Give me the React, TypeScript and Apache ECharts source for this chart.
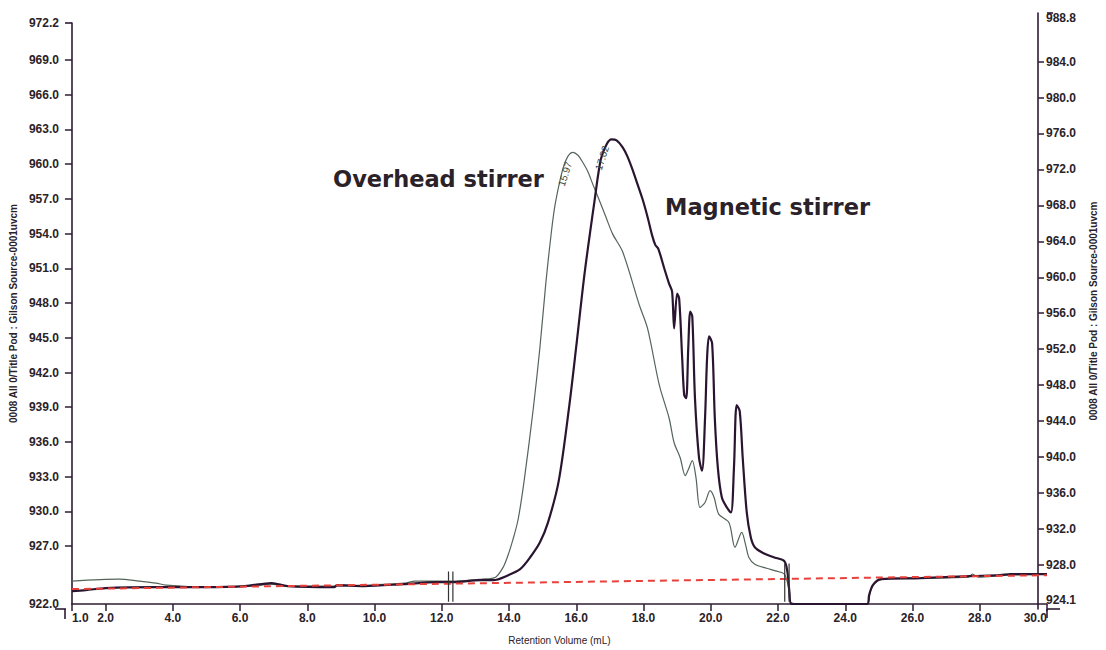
import React, { useEffect, useRef } from "react";
import * as echarts from "echarts";

// ---- axis ticks / labels ----
const volumeTicks = [1, 2, 4, 6, 8, 10, 12, 14, 16, 18, 20, 22, 24, 26, 28, 30];
const leftTicks = [927, 930, 933, 936, 939, 942, 945, 948, 951, 954, 957, 960, 963, 966, 969];
const leftLabels = [922.0, ...leftTicks, 972.2];
const rightTicks = [928, 932, 936, 940, 944, 948, 952, 956, 960, 964, 968, 972, 976, 980, 984];
const rightLabels = [924.1, ...rightTicks, 988.8];

// ---- series (retention volume mL, detector signal) ----
const overheadStirrer: [number, number][] = [
  [1.0, 923.98], [2.4, 924.15], [3.0, 923.98], [3.5, 923.81], [3.8, 923.63], [5.0, 923.46],
  [6.4, 923.55], [6.9, 923.72], [7.4, 923.55], [8.9, 923.55], [10.9, 923.81], [11.2, 923.98],
  [12.4, 923.98], [13.2, 924.15], [13.6, 924.32], [13.83, 925.2], [13.98, 926.3], [14.12, 927.6],
  [14.27, 929.3], [14.45, 932.66], [14.72, 938.85], [14.92, 944.2], [15.1, 949.9], [15.25, 953.9],
  [15.37, 956.5], [15.6, 959.6], [15.75, 960.68], [15.9, 961.03], [16.05, 960.77], [16.19, 960.17],
  [16.34, 959.39], [16.49, 958.28], [16.67, 956.99], [16.87, 955.52], [17.08, 953.98], [17.38, 952.43],
  [17.88, 947.79], [18.12, 945.81], [18.47, 940.91], [18.76, 938.07], [18.91, 935.93], [19.09, 934.64],
  [19.24, 933.09], [19.33, 933.6], [19.45, 934.38], [19.56, 932.92], [19.68, 930.34], [19.83, 930.77],
  [19.98, 931.8], [20.1, 931.2], [20.24, 929.74], [20.54, 929.05], [20.72, 926.9], [20.92, 928.19],
  [21.04, 927.07], [21.13, 926.04], [21.31, 925.44], [21.66, 925.09], [21.96, 924.84], [22.19, 924.58],
  [22.31, 923.46], [22.37, 922.17], [22.7, 922.0], [24.65, 922.0], [24.74, 923.03], [24.88, 923.81],
  [25.12, 924.15], [26.24, 924.24], [27.66, 924.32], [27.78, 924.58], [27.96, 924.32], [28.76, 924.49],
  [30.0, 924.58],
];

const magneticStirrer: [number, number][] = [
  [1.0, 923.12], [1.41, 923.2], [2.0, 923.38], [3.48, 923.46], [4.96, 923.46], [6.14, 923.55],
  [6.94, 923.81], [7.41, 923.55], [8.8, 923.46], [8.89, 923.63], [9.69, 923.55], [10.87, 923.72],
  [11.85, 923.89], [12.35, 923.89], [13.15, 924.06], [13.53, 924.06], [13.98, 924.49], [14.33, 925.01],
  [14.63, 926.04], [14.92, 927.33], [15.16, 929.05], [15.48, 932.66], [15.78, 938.85], [16.02, 944.78],
  [16.25, 950.63], [16.55, 956.99], [16.73, 960.42], [16.9, 961.71], [17.05, 962.14], [17.2, 962.06],
  [17.38, 961.46], [17.52, 960.68], [17.67, 959.56], [17.82, 958.28], [17.97, 956.99], [18.12, 955.44],
  [18.26, 953.81], [18.35, 953.03], [18.44, 952.69], [18.62, 950.97], [18.76, 949.68], [18.85, 948.99],
  [18.91, 945.81], [19.0, 948.82], [19.06, 948.39], [19.15, 943.23], [19.21, 940.05], [19.27, 939.79],
  [19.33, 944.09], [19.39, 947.27], [19.45, 946.84], [19.53, 939.79], [19.65, 934.64], [19.74, 933.52],
  [19.83, 938.07], [19.89, 943.23], [19.95, 945.12], [20.04, 944.52], [20.12, 938.07], [20.21, 933.78],
  [20.33, 931.2], [20.48, 930.34], [20.6, 929.91], [20.69, 933.78], [20.77, 939.19], [20.86, 938.68],
  [20.95, 934.64], [21.07, 929.91], [21.19, 927.76], [21.31, 926.9], [21.57, 926.38], [21.87, 926.04],
  [22.19, 925.7], [22.28, 924.75], [22.34, 923.03], [22.4, 922.0], [24.65, 922.0], [24.71, 922.77],
  [24.82, 923.63], [25.06, 924.15], [26.24, 924.24], [27.72, 924.41], [28.61, 924.49], [28.91, 924.58],
  [30.0, 924.58],
];

const baselineVolume = [1.0, 30.0];
const baselineSignal = [923.29, 924.49];

const markerVolumes = [12.2, 12.33, 22.2, 22.33];
const markerTop = [924.8, 924.8, 925.5, 925.5];
const markerBottom = 922.2;

const peakLabels = ["15.97", "17.02"];

const AXIS = "#2e1c33";
const TXT = "#2a2228";
const FONT = "'Liberation Sans', Arial, sans-serif";

export default function App() {
  const ref = useRef<HTMLDivElement>(null);

  useEffect(() => {
    if (!ref.current) return;
    const chart = echarts.init(ref.current, undefined, { renderer: "svg" });

    const axisLine = { show: true, onZero: false, lineStyle: { color: AXIS, width: 1.6 } };
    const labelStyle = { color: TXT, fontSize: 12, fontFamily: FONT, fontWeight: "bold" as const };

    const markerSeries = markerVolumes.map((v, i) => ({
      type: "line" as const,
      xAxisIndex: 0,
      yAxisIndex: 0,
      data: [[v, markerBottom], [v, markerTop[i]]],
      showSymbol: false,
      silent: true,
      lineStyle: { color: "#333", width: 1.2 },
      z: 6,
    }));

    const line = (x1: number, y1: number, x2: number, y2: number) => ({
      type: "line",
      shape: { x1, y1, x2, y2 },
      style: { stroke: AXIS, lineWidth: 1.6 },
      z: 100,
    });

    chart.setOption({
      animation: false,
      backgroundColor: "#ffffff",
      grid: [
        { left: 66, right: 59, top: 23, bottom: 41 },
        { left: 66, right: 59, top: 13, bottom: 41 },
      ],
      xAxis: [
        {
          gridIndex: 0,
          type: "value",
          min: 1,
          max: 30,
          name: "Retention Volume (mL)",
          nameLocation: "middle",
          nameGap: 31,
          nameTextStyle: { color: TXT, fontSize: 10, fontFamily: FONT },
          axisLine,
          axisTick: { show: true, customValues: volumeTicks, length: 7, lineStyle: { color: AXIS, width: 1.5 } },
          axisLabel: {
            customValues: volumeTicks,
            formatter: (v: number) => v.toFixed(1),
            margin: 8,
            alignMinLabel: "left",
            alignMaxLabel: "right",
            ...labelStyle,
          },
          splitLine: { show: false },
        },
        { gridIndex: 1, type: "value", min: 1, max: 30, show: false },
      ],
      yAxis: [
        {
          gridIndex: 0,
          type: "value",
          position: "left",
          min: 922,
          max: 972.2,
          name: "0008 All 0/Title Pod : Gilson Source-0001uvcm",
          nameLocation: "middle",
          nameRotate: 90,
          nameGap: 52,
          nameTextStyle: { color: TXT, fontSize: 10, fontWeight: "bold", fontFamily: FONT },
          axisLine,
          axisTick: { show: true, customValues: leftTicks, length: 7, lineStyle: { color: AXIS, width: 1.5 } },
          axisLabel: { customValues: leftLabels, formatter: (v: number) => v.toFixed(1), margin: 13, ...labelStyle },
          splitLine: { show: false },
        },
        {
          gridIndex: 1,
          type: "value",
          position: "right",
          min: 923.1,
          max: 989.4,
          name: "0008 All 0/Title Pod : Gilson Source-0001uvcm",
          nameLocation: "middle",
          nameRotate: 90,
          nameGap: 50,
          nameTextStyle: { color: TXT, fontSize: 10, fontWeight: "bold", fontFamily: FONT },
          axisLine,
          axisTick: { show: true, customValues: rightTicks, length: 6, lineStyle: { color: AXIS, width: 1.5 } },
          axisLabel: { customValues: rightLabels, formatter: (v: number) => v.toFixed(1), margin: 8, ...labelStyle },
          splitLine: { show: false },
        },
      ],
      series: [
        {
          name: "Overhead stirrer",
          type: "line",
          xAxisIndex: 0,
          yAxisIndex: 0,
          data: overheadStirrer,
          showSymbol: false,
          smooth: 0.3,
          lineStyle: { color: "#55645a", width: 1.2 },
          z: 3,
        },
        {
          name: "Magnetic stirrer",
          type: "line",
          xAxisIndex: 0,
          yAxisIndex: 0,
          data: magneticStirrer,
          showSymbol: false,
          smooth: 0.3,
          lineStyle: { color: "#2a1530", width: 2.2 },
          z: 4,
        },
        {
          name: "baseline",
          type: "line",
          xAxisIndex: 0,
          yAxisIndex: 0,
          data: baselineVolume.map((v, i) => [v, baselineSignal[i]]),
          showSymbol: false,
          lineStyle: { color: "#e8403a", width: 2, type: [7, 5] },
          z: 5,
        },
        ...markerSeries,
      ],
      graphic: [
        line(55, 609, 66, 609),
        line(1047, 609, 1060, 609),
        line(65, 609, 65, 619),
        line(1047, 609, 1047, 618),
        line(65, 23, 72, 23),
        line(1047, 13, 1053, 13),
        {
          type: "text",
          x: 333,
          y: 179,
          style: { text: "Overhead stirrer", font: "bold 22.5px 'DejaVu Sans', sans-serif", fill: TXT, textAlign: "left", textVerticalAlign: "middle" },
          z: 100,
        },
        {
          type: "text",
          x: 665,
          y: 207,
          style: { text: "Magnetic stirrer", font: "bold 22.5px 'DejaVu Sans', sans-serif", fill: TXT, textAlign: "left", textVerticalAlign: "middle" },
          z: 100,
        },
        {
          type: "text",
          x: 565,
          y: 174,
          rotation: (72 * Math.PI) / 180,
          style: { text: peakLabels[0], font: "10px 'Liberation Sans', sans-serif", fill: "#3c4a40", textAlign: "center", textVerticalAlign: "middle" },
          z: 100,
        },
        {
          type: "text",
          x: 602,
          y: 158,
          rotation: (72 * Math.PI) / 180,
          style: { text: peakLabels[1], font: "10px 'Liberation Sans', sans-serif", fill: "#3c4a40", textAlign: "center", textVerticalAlign: "middle" },
          z: 100,
        },
      ],
    });

    return () => chart.dispose();
  }, []);

  return (
    <div
      ref={ref}
      style={{ position: "absolute", left: 0, top: 0, width: 1106, height: 650, background: "#fff" }}
    />
  );
}
